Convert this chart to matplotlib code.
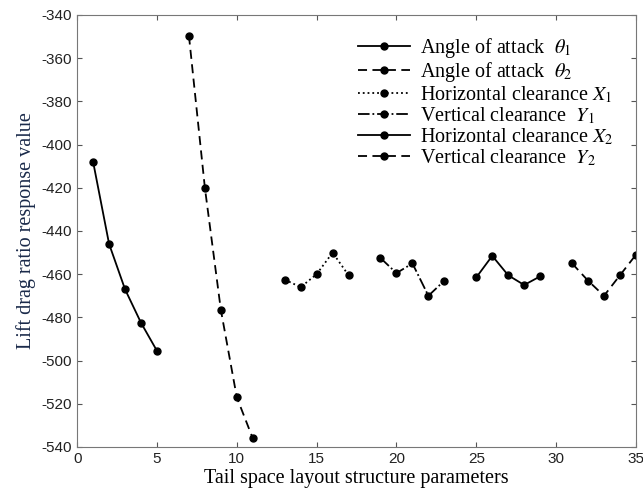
import matplotlib.pyplot as plt

plt.rcParams['mathtext.fontset'] = 'stix'
plt.rcParams['axes.unicode_minus'] = False

# Data
x_theta1 = [1, 2, 3, 4, 5]
y_theta1 = [-408, -446, -467, -482.5, -495.5]
x_theta2 = [7, 8, 9, 10, 11]
y_theta2 = [-349.5, -420, -476.5, -517, -536]
x_x1 = [13, 14, 15, 16, 17]
y_x1 = [-462.5, -466, -460, -450, -460.5]
x_y1 = [19, 20, 21, 22, 23]
y_y1 = [-452.5, -459.5, -455, -470, -463]
x_x2 = [25, 26, 27, 28, 29]
y_x2 = [-461.5, -451.5, -460.5, -465, -461]
x_y2 = [31, 32, 33, 34, 35]
y_y2 = [-455, -463, -470, -460.5, -451]

labels = [r'Angle of attack  $\theta_1$', r'Angle of attack  $\theta_2$',
          r'Horizontal clearance $X_1$', r'Vertical clearance  $Y_1$',
          r'Horizontal clearance $X_2$', r'Vertical clearance  $Y_2$']

fig = plt.figure(figsize=(6.43, 5), dpi=100)
ax = fig.add_axes([0.12, 0.106, 0.869, 0.864])

series = [(x_theta1, y_theta1, '-'), (x_theta2, y_theta2, (0, (5, 3))),
          (x_x1, y_x1, ':'), (x_y1, y_y1, '-.'),
          (x_x2, y_x2, '-'), (x_y2, y_y2, (0, (5, 3)))]
for (xs, ys, ls), lab in zip(series, labels):
    ax.plot(xs, ys, linestyle=ls, color='black', marker='o', markersize=5,
            linewidth=1.3, label=lab)

ax.set_xlim(0, 35)
ax.set_ylim(-540, -340)
ax.set_xticks(range(0, 36, 5))
ax.set_yticks(range(-540, -339, 20))
ax.tick_params(direction='in', labelsize=11, colors='#555555', right=True, top=True,
               labelcolor='#222222')
for sp in ax.spines.values():
    sp.set_color('#777777')

ax.set_xlabel('Tail space layout structure parameters', family='Liberation Serif',
              fontsize=14.5, labelpad=2)
ax.set_ylabel('Lift drag ratio response value', family='Liberation Serif', fontsize=14.5,
              color='#1a2a4a', labelpad=4)
for t in ax.get_xticklabels() + ax.get_yticklabels():
    t.set_family('Liberation Sans')

ax.legend(loc='upper right', bbox_to_anchor=(0.985, 0.985), frameon=False,
          prop={'family': 'Liberation Serif', 'size': 14.5},
          handlelength=2.6, handletextpad=0.5, labelspacing=0.02, borderaxespad=0.3)

fig.savefig('out.png', dpi=100)
